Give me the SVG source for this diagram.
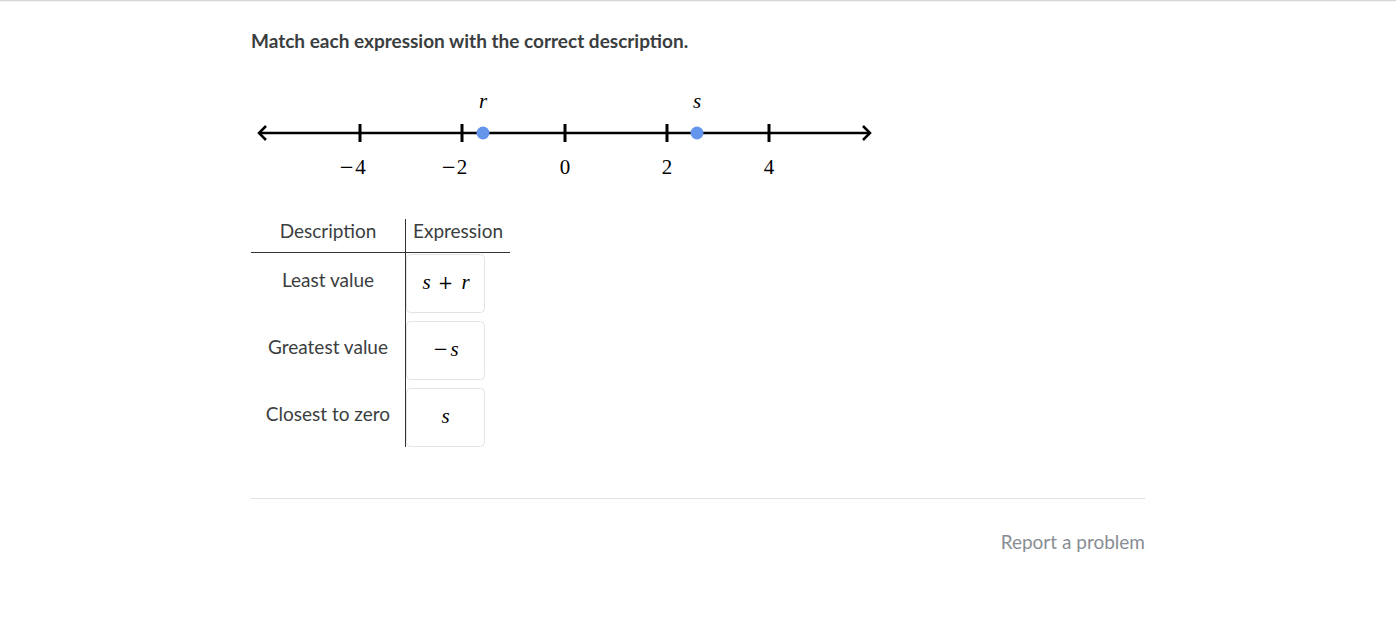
<svg xmlns="http://www.w3.org/2000/svg" width="1396" height="636" viewBox="0 0 1396 636">
<style>
.ui{font-family:Lato,"Liberation Sans",sans-serif;}
.title{font-size:19px;font-weight:bold;fill:#3b3e40;}
.cell{font-size:19px;fill:#3b3e40;text-anchor:middle;}
.math{font-family:"Liberation Serif","DejaVu Serif",serif;font-size:21px;fill:#000;text-anchor:middle;}
.mi{font-style:italic;}
.op{font-family:"DejaVu Serif",serif;font-size:18px;}
.axis{stroke:#000;stroke-width:2.5;fill:none;}
.tick{stroke:#000;stroke-width:3;}
.dot{fill:#6495ed;}
.box{fill:#fff;stroke:#e3e3e3;stroke-width:1;}
.rule{stroke:#333;stroke-width:1;}
.sep{stroke:#e0e0e0;stroke-width:1;}
</style>
<rect width="1396" height="636" fill="#fff"/>
<line x1="0" y1="0.5" x2="1396" y2="0.5" stroke="#d6d6d6" stroke-width="1.5"/>
<text class="ui title" x="251" y="48">Match each expression with the correct description.</text>

<g id="numberline">
<line class="axis" x1="259" y1="133" x2="870" y2="133"/>
<path class="axis" d="M266,126 L259,133 L266,140"/>
<path class="axis" d="M863,126 L870,133 L863,140"/>
<line class="tick" x1="360" y1="124" x2="360" y2="142"/>
<line class="tick" x1="462" y1="124" x2="462" y2="142"/>
<line class="tick" x1="565" y1="124" x2="565" y2="142"/>
<line class="tick" x1="667" y1="124" x2="667" y2="142"/>
<line class="tick" x1="769" y1="124" x2="769" y2="142"/>
<text class="math op" x="346.5" y="173">−</text>
<text class="math" x="360.5" y="174">4</text>
<text class="math op" x="448.5" y="173">−</text>
<text class="math" x="462" y="174">2</text>
<text class="math" x="565" y="174">0</text>
<text class="math" x="667" y="174">2</text>
<text class="math" x="769" y="174">4</text>
<circle class="dot" cx="483" cy="133" r="6.5"/>
<circle class="dot" cx="697" cy="133" r="6.5"/>
<text class="math mi" x="483" y="108" font-size="20">r</text>
<text class="math mi" x="697" y="108" font-size="20">s</text>
</g>

<g id="table">
<line class="rule" x1="405.5" y1="219" x2="405.5" y2="447"/>
<line class="rule" x1="251" y1="252.5" x2="510" y2="252.5"/>
<text class="ui cell" x="328" y="238">Description</text>
<text class="ui cell" x="458" y="238">Expression</text>
</g>

<g id="row1">
<text class="ui cell" x="328" y="287">Least value</text>
<rect class="box" x="406.5" y="254.5" width="78" height="58" rx="4"/>
<text class="math mi" x="426.5" y="289">s</text>
<text class="math op" x="445.5" y="289">+</text>
<text class="math mi" x="465.5" y="289">r</text>
</g>
<g id="row2">
<text class="ui cell" x="328" y="354">Greatest value</text>
<rect class="box" x="406.5" y="321.5" width="78" height="58" rx="4"/>
<text class="math op" x="440.5" y="355">−</text>
<text class="math mi" x="454.5" y="356">s</text>
</g>
<g id="row3">
<text class="ui cell" x="328" y="421">Closest to zero</text>
<rect class="box" x="406.5" y="388.5" width="78" height="58" rx="4"/>
<text class="math mi" x="445.5" y="423">s</text>
</g>

<line class="sep" x1="251" y1="498.5" x2="1145" y2="498.5"/>
<text class="ui" x="1145" y="549" font-size="19" fill="#888d93" text-anchor="end">Report a problem</text>
</svg>
